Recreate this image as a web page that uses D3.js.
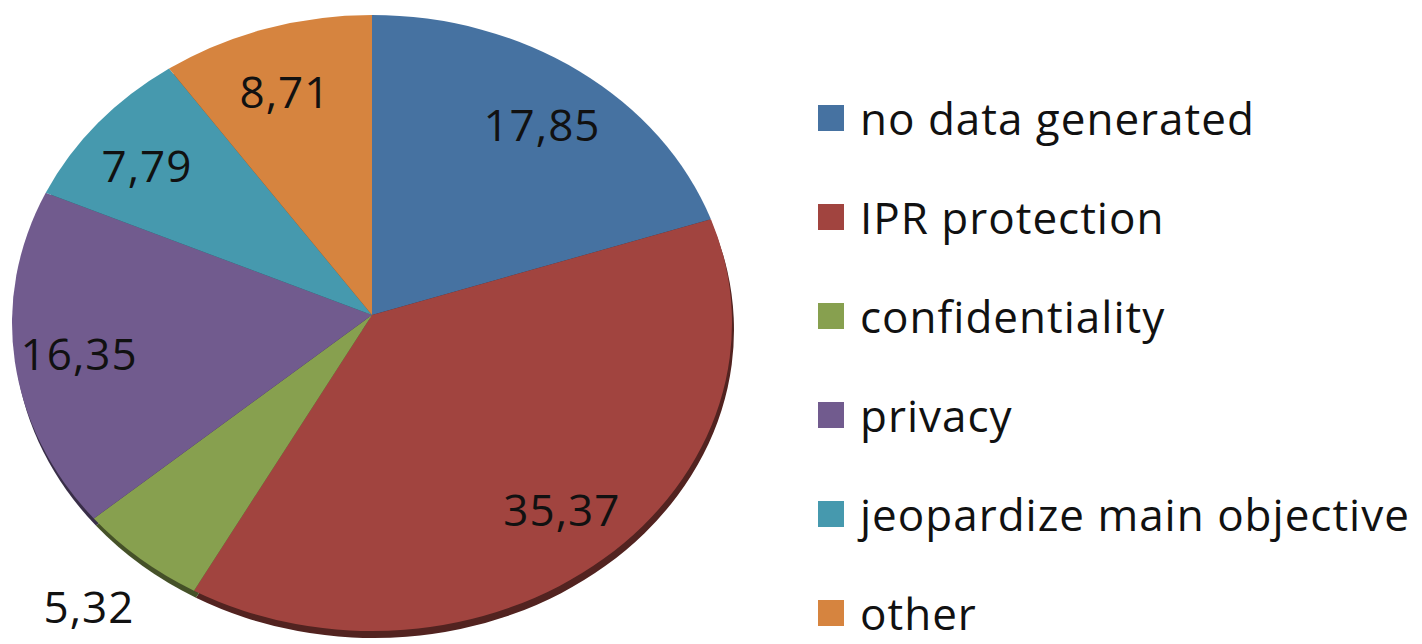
<html>
<head>
<meta charset="utf-8">
<script src="https://d3js.org/d3.v7.min.js"></script>
<style>
  body { margin: 0; background: #fff; }
  text { font-family: "Open Sans", Lato, sans-serif; fill: #111; letter-spacing: 1px; }
</style>
</head>
<body>
<svg width="1422" height="644"></svg>
<script>
var categories = ["no data generated", "IPR protection", "confidentiality", "privacy", "jeopardize main objective", "other"];
var values = [17.85, 35.37, 5.32, 16.35, 7.79, 8.71];

var svg = d3.select("svg");

// tilted pie: ellipse plus apex a bit above its centre
var cx = 372, cy = 323, rx = 360, ry = 308;
var apex = [372, 315];
var sideDx = 2, sideDy = 7;

var color = d3.scaleOrdinal()
  .domain(categories)
  .range(["#4672a1", "#a1443f", "#87a04f", "#715b8e", "#4699ae", "#d6843f"]);

var fmt = function(v) { return d3.format(".2f")(v).replace(".", ","); };

var pie = d3.pie().sort(null).value(d => d.value);
var slices = pie(categories.map((c, i) => ({cat: c, value: values[i]})));

function pt(a, dx, dy) {
  return [cx + dx + rx * Math.sin(a), cy - ry * Math.cos(a) + dy];
}
function slicePath(d, dx, dy) {
  var p0 = pt(d.startAngle, dx, dy), p1 = pt(d.endAngle, dx, dy);
  var large = (d.endAngle - d.startAngle) > Math.PI ? 1 : 0;
  return "M" + (apex[0] + dx) + "," + (apex[1] + dy) +
    "L" + p0[0] + "," + p0[1] +
    "A" + rx + "," + ry + " 0 " + large + " 1 " + p1[0] + "," + p1[1] + "Z";
}

// side of the disc
svg.append("g").selectAll("path")
  .data(slices)
  .enter()
  .append("path")
  .attr("d", d => slicePath(d, sideDx, sideDy))
  .attr("fill", d => d3.color(color(d.data.cat)).darker(1.9));

// top
svg.append("g").selectAll("path")
  .data(slices)
  .enter()
  .append("path")
  .attr("d", d => slicePath(d, 0, 0))
  .attr("fill", d => color(d.data.cat));

// value labels, small slices go outside
var total = d3.sum(values);
svg.append("g").selectAll("text")
  .data(slices)
  .enter()
  .append("text")
  .attr("x", function(d) {
    var a = (d.startAngle + d.endAngle) / 2;
    var f = d.value / total < 0.06 ? 1.22 : 0.82;
    return cx + f * rx * Math.sin(a);
  })
  .attr("y", function(d) {
    var a = (d.startAngle + d.endAngle) / 2;
    var f = d.value / total < 0.06 ? 1.2 : 0.79;
    return cy - f * ry * Math.cos(a);
  })
  .attr("text-anchor", "middle")
  .attr("dominant-baseline", "central")
  .attr("font-size", 44)
  .text(d => fmt(d.value));

// legend
var ly = d3.scalePoint().domain(categories).range([118, 613]);
var legend = svg.append("g").selectAll("g")
  .data(categories)
  .enter()
  .append("g")
  .attr("transform", d => "translate(818," + ly(d) + ")");

legend.append("rect")
  .attr("x", 0)
  .attr("y", -13)
  .attr("width", 26)
  .attr("height", 26)
  .attr("fill", d => color(d));

legend.append("text")
  .attr("x", 42)
  .attr("y", 0)
  .attr("dominant-baseline", "central")
  .attr("font-size", 44)
  .text(d => d);
</script>
</body>
</html>
